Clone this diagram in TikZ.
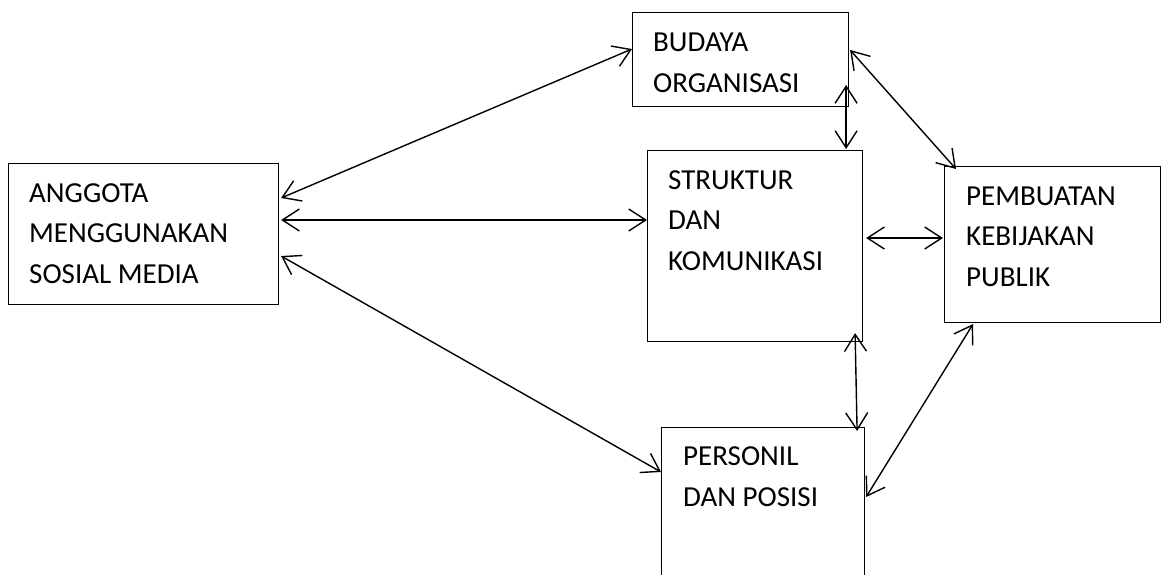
\documentclass[tikz,border=0pt]{standalone}
\usepackage{fontspec}
\setmainfont{Carlito}
\usetikzlibrary{arrows.meta}
\begin{document}
\begin{tikzpicture}[x=1pt,y=-1pt,
  box/.style={draw, line width=1.1pt, inner sep=0pt, anchor=north west},
  label/.style={anchor=base west, inner sep=0pt, align=left,
    font=\fontsize{29}{40.5}\selectfont},
  barb/.tip={Straight Barb[length=17pt,width=22pt,line width=1.4pt]},
  conn/.style={line width=1.4pt, barb-barb}]
\clip (0,0) rectangle (1163,574);
\useasboundingbox (0,0) rectangle (1163,574);

% boxes
\node[box, minimum width=270pt, minimum height=141pt] (ang) at (8,163) {};
\node[box, minimum width=216pt, minimum height=94pt]  (bud) at (632,12) {};
\node[box, minimum width=215pt, minimum height=191pt] (str) at (647,150) {};
\node[box, minimum width=216pt, minimum height=156pt] (pem) at (944,166) {};
\node[box, minimum width=203pt, minimum height=170pt] (per) at (661,427) {};

% box texts, placed by the baseline of their last line
\node[label] (tang) at (29,283) {ANGGOTA\\MENGGUNAKAN\\SOSIAL MEDIA};
\node[label] (tbud) at (653,92) {BUDAYA\\ORGANISASI};
\node[label] (tstr) at (668,270) {STRUKTUR\\DAN\\KOMUNIKASI};
\node[label] (tpem) at (966,286) {PEMBUATAN\\KEBIJAKAN\\PUBLIK};
\node[label] (tper) at (683,506) {PERSONIL\\DAN POSISI};

% connectors
\draw[conn] ([xshift=2pt,yshift=-35pt]ang.north east) -- ([yshift=-37pt]bud.north west);
\draw[conn] ([xshift=2pt,yshift=-57pt]ang.north east) -- ([yshift=-70pt]str.north west);
\draw[conn] ([xshift=2pt,yshift=-93pt]ang.north east) -- ([yshift=-45pt]per.north west);
\draw[conn] ([xshift=1pt,yshift=-38pt]bud.north east) -- ([xshift=12pt,yshift=-3pt]pem.north west);
\draw[conn] ([xshift=-3pt,yshift=-73pt]bud.north east) -- ([xshift=-17pt,yshift=1pt]str.north east);
\draw[conn] ([xshift=3pt,yshift=-88pt]str.north east) -- ([xshift=-1pt,yshift=-72pt]pem.north west);
\draw[conn] ([xshift=-8pt,yshift=9pt]str.south east) -- ([xshift=-8pt,yshift=-4pt]per.north east);
\draw[conn] ([xshift=29pt,yshift=-1pt]pem.south west) -- ([xshift=1pt,yshift=-70pt]per.north east);
\end{tikzpicture}
\end{document}
